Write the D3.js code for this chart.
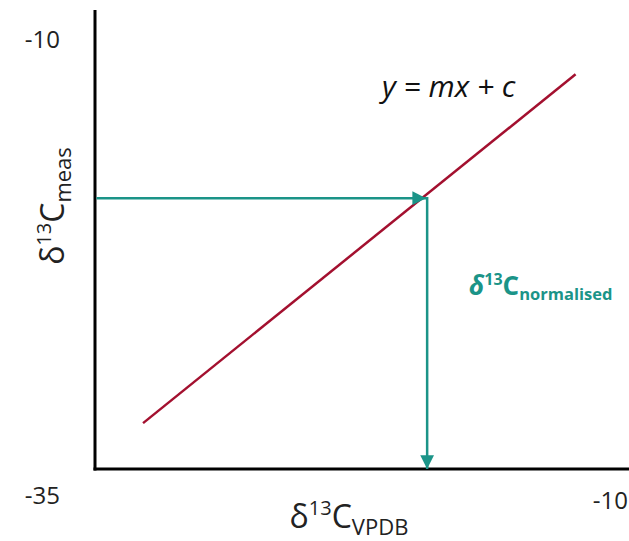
<!DOCTYPE html>
<html>
<head>
<meta charset="utf-8">
<script src="https://cdn.jsdelivr.net/npm/d3@7"></script>
<style>
  body { margin: 0; background: #fff; }
  text { font-family: "Open Sans", sans-serif; }
</style>
</head>
<body>
<div class="chart_container"></div>
<script>
// axis range (per mil)
const axisDomain = [-35, -10];
const xTickLabels = ["-35", "-10"];
const yTickLabels = ["-35", "-10"];

// calibration line end points
const lineX = [-32.75, -12.5];
const lineY = [-32.5, -13.5];

// read-off point
const measValue = -20.25;
const normValue = -19.45;

const width = 629;
const height = 541;
const red = "#a3102f";
const teal = "#1b9488";

const svg = d3.select("div.chart_container").append("svg")
  .attr("width", width)
  .attr("height", height);

const xScale = d3.scaleLinear().domain(axisDomain).range([95, 629]);
const yScale = d3.scaleLinear().domain(axisDomain).range([469, 10]);

const defs = svg.append("defs");
defs.append("marker")
  .attr("id", "arrow")
  .attr("viewBox", "0 0 10 10")
  .attr("refX", 10).attr("refY", 5)
  .attr("markerWidth", 6).attr("markerHeight", 5.5)
  .attr("markerUnits", "strokeWidth")
  .attr("orient", "auto")
  .append("path")
  .attr("d", "M0,0 L10,5 L0,10 Z")
  .attr("fill", teal);

// axes
svg.append("line")
  .attr("x1", xScale(-35)).attr("x2", xScale(-35))
  .attr("y1", yScale(-10)).attr("y2", yScale(-35) + 1.5)
  .attr("stroke", "#000").attr("stroke-width", 3);
svg.append("line")
  .attr("x1", xScale(-35) - 1.5).attr("x2", xScale(-10))
  .attr("y1", yScale(-35)).attr("y2", yScale(-35))
  .attr("stroke", "#000").attr("stroke-width", 3);

// tick labels
svg.append("text")
  .attr("x", xScale(-35) - 35).attr("y", yScale(-10) + 38)
  .attr("text-anchor", "end").attr("font-size", 24).attr("fill", "#222")
  .text(yTickLabels[1]);
svg.append("text")
  .attr("x", xScale(-35) - 35).attr("y", yScale(-35) + 35)
  .attr("text-anchor", "end").attr("font-size", 24).attr("fill", "#222")
  .text(xTickLabels[0]);
svg.append("text")
  .attr("x", xScale(-10) - 1).attr("y", yScale(-35) + 40)
  .attr("text-anchor", "end").attr("font-size", 24).attr("fill", "#222")
  .text(xTickLabels[1]);

// calibration line
svg.append("line")
  .attr("x1", xScale(lineX[0])).attr("y1", yScale(lineY[0]))
  .attr("x2", xScale(lineX[1])).attr("y2", yScale(lineY[1]))
  .attr("stroke", red).attr("stroke-width", 2.5);

// read-off arrows
svg.append("line")
  .attr("x1", xScale(-35) + 1.5).attr("y1", yScale(measValue))
  .attr("x2", xScale(normValue) - 1).attr("y2", yScale(measValue))
  .attr("stroke", teal).attr("stroke-width", 2.5)
  .attr("marker-end", "url(#arrow)");
svg.append("line")
  .attr("x1", xScale(normValue)).attr("y1", yScale(measValue) - 1.2)
  .attr("x2", xScale(normValue)).attr("y2", yScale(-35))
  .attr("stroke", teal).attr("stroke-width", 2.5)
  .attr("marker-end", "url(#arrow)");

// labels
svg.append("text")
  .attr("x", 382).attr("y", 97)
  .attr("font-size", 30).attr("font-style", "italic").attr("fill", "#111")
  .text("y = mx + c");

const norm = svg.append("text")
  .attr("x", 469).attr("y", 295)
  .attr("fill", teal).attr("font-weight", "bold").attr("font-size", 26);
norm.append("tspan").attr("font-style", "italic").text("δ");
norm.append("tspan").attr("font-size", 16).attr("dy", -10).text("13");
norm.append("tspan").attr("dy", 10).text("C");
norm.append("tspan").attr("font-size", 16.5).attr("dy", 5).text("normalised");

const xl = svg.append("text")
  .attr("x", 349).attr("y", 528)
  .attr("text-anchor", "middle").attr("fill", "#222").attr("font-size", 32);
xl.append("tspan").text("δ");
xl.append("tspan").attr("font-size", 20).attr("dy", -13).text("13");
xl.append("tspan").attr("dy", 13).text("C");
xl.append("tspan").attr("font-size", 22).attr("dy", 7).text("VPDB");

const yl = svg.append("text")
  .attr("transform", "translate(64,206) rotate(-90)")
  .attr("text-anchor", "middle").attr("fill", "#222").attr("font-size", 32);
yl.append("tspan").text("δ");
yl.append("tspan").attr("font-size", 20).attr("dy", -13).text("13");
yl.append("tspan").attr("dy", 13).text("C");
yl.append("tspan").attr("font-size", 22).attr("dy", 7).text("meas");
</script>
</body>
</html>
